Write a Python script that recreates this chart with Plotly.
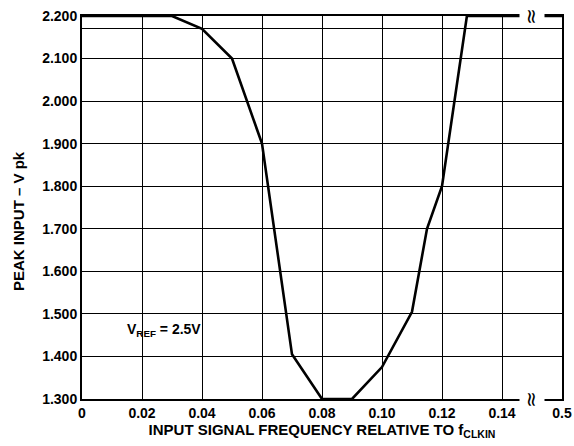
import plotly.graph_objects as go

# === Data (axis position; last tick "0.5" sits after the axis break) ===
freq = [0.0, 0.03, 0.04, 0.05, 0.06, 0.07, 0.08, 0.09, 0.10, 0.11, 0.115, 0.12, 0.1283, 0.16]
peak = [2.200, 2.200, 2.170, 2.100, 1.900, 1.405, 1.300, 1.300, 1.375, 1.505, 1.700, 1.800, 2.200, 2.200]

x_tickvals = [0, 0.02, 0.04, 0.06, 0.08, 0.10, 0.12, 0.14, 0.16]
x_ticktext = ['0', '0.02', '0.04', '0.06', '0.08', '0.10', '0.12', '0.14', '0.5']
y_tickvals = [1.3, 1.4, 1.5, 1.6, 1.7, 1.8, 1.9, 2.0, 2.1, 2.2]
y_ticktext = ['1.300', '1.400', '1.500', '1.600', '1.700', '1.800', '1.900',
              '2.000', '2.100', '2.200']
y_extra_grid = [2.17]
break_x = 0.15

FONT = 'Liberation Sans, Arial, sans-serif'

fig = go.Figure()

fig.add_trace(go.Scatter(
    x=freq, y=peak, mode='lines',
    line=dict(color='black', width=2.6),
    showlegend=False, cliponaxis=False
))

# axis break marks (top and bottom)
for yv in [2.2, 1.3]:
    fig.add_annotation(
        x=break_x, y=yv, text='≈', textangle=90, showarrow=False,
        font=dict(family='DejaVu Sans', size=20, color='black'),
        bgcolor='white', borderpad=0, xanchor='center', yanchor='middle'
    )

fig.add_annotation(
    x=0.0143, y=1.462, xanchor='left', yanchor='middle', showarrow=False,
    text='<b>V<sub>REF</sub> = 2.5V</b>',
    font=dict(family=FONT, size=14, color='black')
)

# y axis title
fig.add_annotation(
    xref='paper', yref='paper', x=-0.131, y=0.465, textangle=-90,
    xanchor='center', yanchor='middle', showarrow=False,
    text='<b>PEAK INPUT – V pk</b>',
    font=dict(family=FONT, size=15, color='black')
)

fig.update_layout(
    width=574, height=446,
    paper_bgcolor='white', plot_bgcolor='white',
    margin=dict(l=82, r=12, t=16, b=47),
    font=dict(family=FONT, color='black'),
)

fig.update_xaxes(
    range=[0, 0.16], tickvals=x_tickvals, ticktext=[f'<b>{t}</b>' for t in x_ticktext],
    tickfont=dict(size=14), ticks='', showgrid=True, gridcolor='black', gridwidth=1,
    showline=True, linecolor='black', linewidth=2, mirror=True, zeroline=False,
    automargin=False, ticklabeloverflow='allow',
    title=dict(text='<b>INPUT SIGNAL FREQUENCY RELATIVE TO f<sub>CLKIN</sub></b>',
               font=dict(size=15), standoff=2)
)

fig.update_yaxes(
    range=[1.3, 2.2], tickvals=y_tickvals, ticktext=[f'<b>{t}</b>' for t in y_ticktext],
    tickfont=dict(size=14), ticks='', showgrid=True, gridcolor='black', gridwidth=1,
    minor=dict(tickmode='array', tickvals=y_extra_grid, showgrid=True,
               gridcolor='black', gridwidth=1, ticks=''),
    showline=True, linecolor='black', linewidth=2, mirror=True, zeroline=False,
    automargin=False, ticklabeloverflow='allow',
)

# drop the default page margin so the figure fills the window exactly
fig.write_html('out.html', config={'displayModeBar': False},
               post_script="document.body.style.margin='0';document.body.style.overflow='hidden';")
